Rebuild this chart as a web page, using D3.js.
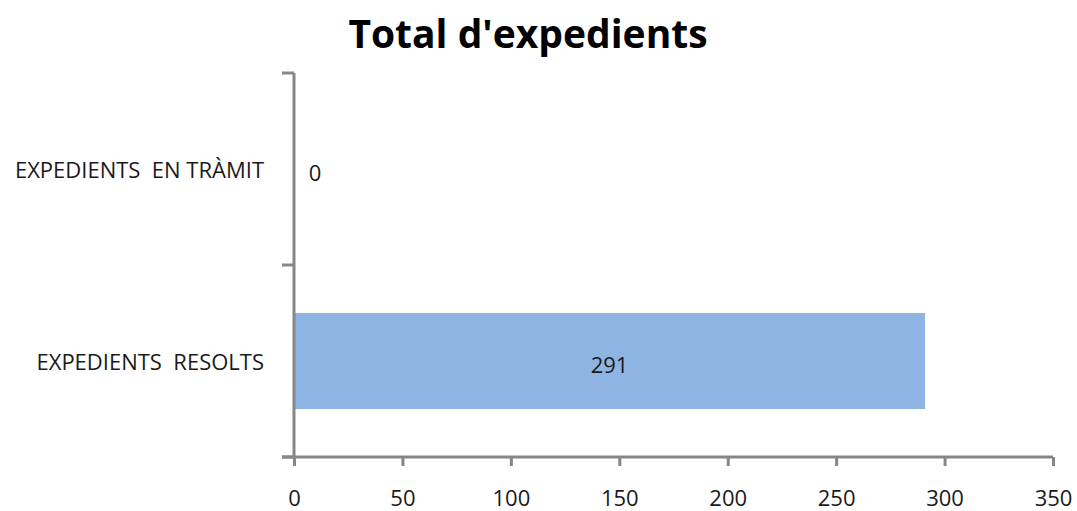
<!DOCTYPE html>
<html><head><meta charset="utf-8">
<script src="https://cdn.jsdelivr.net/npm/d3@7"></script>
<style>body{margin:0;background:#fff}svg{display:block}text{font-family:"Open Sans","Noto Sans",sans-serif;white-space:pre}</style>
</head><body><svg id="c" width="1077" height="511"></svg>
<script>
const categories = ["EXPEDIENTS  EN TRÀMIT", "EXPEDIENTS  RESOLTS"];
const values = [0, 291];
const xTicks = [0, 50, 100, 150, 200, 250, 300, 350];
const title = "Total d'expedients";

const svg = d3.select("#c");
const x = d3.scaleLinear().domain([0, 350]).range([294, 1053]);
const y = d3.scaleBand().domain(categories).range([73, 457]).paddingInner(0.5).paddingOuter(0.25);
const axisColor = "#868686";
const fs = 22;

// bars
svg.selectAll("rect.bar").data(values).join("rect")
  .attr("x", x(0)).attr("y", (d,i)=>y(categories[i]))
  .attr("width", d=>x(d)-x(0)).attr("height", y.bandwidth())
  .attr("fill", "#8EB4E3");

// y axis
const yBand = d3.scaleBand().domain(categories).range([73, 457]);
const yAxis = d3.axisLeft(yBand).tickSize(0).tickPadding(30);
const gy = svg.append("g").attr("transform", "translate(294,0)").call(yAxis);
gy.select(".domain").attr("stroke", axisColor).attr("stroke-width", 3).attr("d", "M0,73V457");
gy.selectAll("text").attr("font-size", fs).attr("fill", "#1a1a1a").attr("dy", "0.42em");
const bounds = [73, 265, 457];
gy.selectAll("line.bt").data(bounds).join("line").attr("class","bt")
  .attr("x1", -12).attr("x2", 0).attr("y1", d=>d).attr("y2", d=>d)
  .attr("stroke", axisColor).attr("stroke-width", 3);

// x axis
const xAxis = d3.axisBottom(x).tickValues(xTicks).tickSize(9).tickPadding(26);
const gx = svg.append("g").attr("transform", "translate(0,457)").call(xAxis);
gx.select(".domain").attr("stroke", axisColor).attr("stroke-width", 3).attr("d", "M282,0H1053");
gx.selectAll(".tick line").attr("stroke", axisColor).attr("stroke-width", 3);
gx.selectAll("text").attr("font-size", fs).attr("fill", "#1a1a1a").attr("dy", "0.65em");

// value labels
svg.selectAll("text.val").data(values).join("text").attr("class","val")
  .attr("x", (d,i)=> d > 0 ? (x(0)+x(d))/2 : x(0)+21)
  .attr("y", (d,i)=> y(categories[i]) + y.bandwidth()/2 + 4)
  .attr("dy", "0.36em").attr("text-anchor", "middle")
  .attr("font-size", fs).attr("fill", "#1a1a1a").text(d=>d);

// title
svg.append("text").attr("x", 528).attr("y", 48).attr("text-anchor","middle")
  .attr("font-size", 39).attr("font-weight","bold").attr("fill","#000").text(title);
</script></body></html>
